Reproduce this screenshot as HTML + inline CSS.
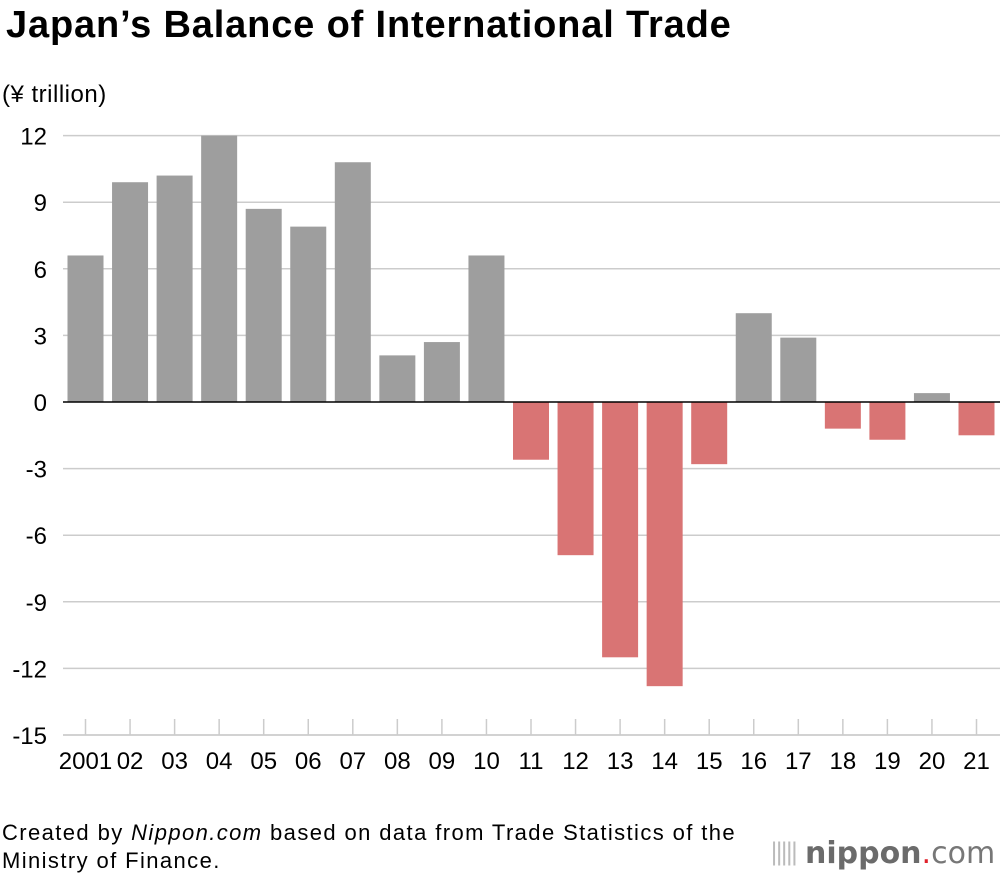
<!DOCTYPE html>
<html><head><meta charset="utf-8"><style>
body{margin:0;background:#fff;font-family:"Liberation Sans",sans-serif;}
#wrap{position:relative;width:1000px;height:880px;overflow:hidden}
.t{position:absolute;color:#000}
</style></head><body>
<div id="wrap">
<div class="t" style="left:6px;top:4px;font-size:38px;font-weight:bold;letter-spacing:0.85px">Japan’s Balance of International Trade</div>
<div class="t" style="left:2px;top:81px;font-size:24px;letter-spacing:0.5px">(¥ trillion)</div>
<svg id="chart" width="1000" height="800" style="position:absolute;left:0;top:0"></svg>
<div class="t" style="left:2px;top:819px;font-size:22px;line-height:28px;letter-spacing:1.4px">Created by <i>Nippon.com</i> based on data from Trade Statistics of the<br>Ministry of Finance.</div>
<div class="t" style="left:770px;top:836px;font-size:30px;color:#6b6b6b;font-family:'DejaVu Sans',sans-serif;letter-spacing:0px">
<span style="font-size:24px;color:#bbb;letter-spacing:-3px;vertical-align:3px">|||||</span> <b style="font-weight:bold">nippon</b><span style="color:#e0202a">.</span><span style="font-weight:normal;color:#777">com</span></div>
</div>
<script>
const categories=["2001","02","03","04","05","06","07","08","09","10","11","12","13","14","15","16","17","18","19","20","21"];
const values=[6.6,9.9,10.2,12.0,8.7,7.9,10.8,2.1,2.7,6.6,-2.6,-6.9,-11.5,-12.8,-2.8,4.0,2.9,-1.2,-1.7,0.4,-1.5];
const yTicks=[12,9,6,3,0,-3,-6,-9,-12,-15];
const NS="http://www.w3.org/2000/svg";
const svg=document.getElementById('chart');
function y(v){return 402-(v*22.2);}
function xc(i){return 85.5+i*44.55;}
function mk(t,a){const e=document.createElementNS(NS,t);for(const k in a)e.setAttribute(k,a[k]);svg.appendChild(e);return e;}
yTicks.forEach(v=>{
  if(v!==0){const l=mk('line',{x1:63,x2:1000,y1:y(v),y2:y(v),stroke:'#cccccc','stroke-width':1.5});
  
  }
  const t=mk('text',{x:47,y:y(v)+9,'text-anchor':'end','font-size':24,'font-family':'Liberation Sans, sans-serif'});
  t.textContent=v;
  
  
});
categories.forEach((c,i)=>{
  const tk=mk('line',{x1:xc(i),x2:xc(i),y1:719,y2:735,stroke:'#cccccc','stroke-width':1.5});
  
  
  const v=values[i];
  const r=mk('rect',{x:xc(i)-18,width:36,y:Math.min(y(v),y(0)),height:Math.abs(y(v)-y(0)),fill:v>=0?'#9e9e9e':'#d97474'});
  
  
  const t=mk('text',{x:xc(i),y:769,'text-anchor':'middle','font-size':24,'font-family':'Liberation Sans, sans-serif'});
  t.textContent=c;
  
  
});
const ax=mk('line',{x1:63,x2:1000,y1:735,y2:735,stroke:'#cccccc','stroke-width':1.5});


const z=mk('line',{x1:63,x2:1000,y1:y(0),y2:y(0),stroke:'#000','stroke-width':1.5});


</script>
</body></html>
